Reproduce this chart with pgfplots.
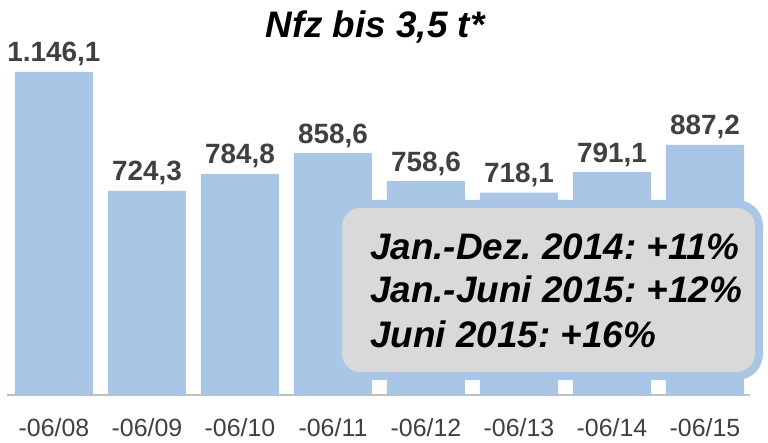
\documentclass[border=0pt]{standalone}
\usepackage{pgfplots}
\pgfplotsset{compat=1.18}
\usepackage{fontspec}
\setmainfont{Liberation Sans}
\frenchspacing
\definecolor{barblue}{RGB}{169,198,230}
\definecolor{boxgray}{RGB}{217,217,217}
\definecolor{txtgray}{RGB}{64,64,64}
\begin{document}
\begin{tikzpicture}
\path[use as bounding box] (-7bp,-48bp) rectangle (761bp,395bp);
\begin{axis}[
  at={(0,0)}, anchor=south west,
  scale only axis, width=743bp, height=323bp,
  xmin=-0.505, xmax=7.484, ymin=0, ymax=1146.1,
  clip=false,
  axis x line=bottom, axis y line=none,
  x axis line style={-, color=black!25, line width=1.3bp},
  xtick={0,...,7},
  xticklabels={-06/08,-06/09,-06/10,-06/11,-06/12,-06/13,-06/14,-06/15},
  major tick length=0pt,
  xticklabel style={anchor=base, yshift=-41bp, inner sep=0pt, text=txtgray, font=\fontsize{25}{28}\selectfont},
  ytick=\empty,
]
\addplot[ybar, bar width=0.839, fill=barblue, draw=none,
  point meta=explicit symbolic,
  nodes near coords,
  nodes near coords style={anchor=base, yshift=10bp, inner sep=0pt, text=txtgray, font=\fontsize{28}{30}\selectfont\bfseries},
] coordinates {
  (0,1146.1) [1.146,1]
  (1,724.3) [724,3]
  (2,784.8) [784,8]
  (3,858.6) [858,6]
  (4,758.6) [758,6]
  (5,718.1) [718,1]
  (6,791.1) [791,1]
  (7,887.2) [887,2]
};
\end{axis}
\node[anchor=base, inner sep=0pt, font=\fontsize{37}{40}\selectfont\bfseries\itshape] at (368bp,357bp) {Nfz bis 3,5 t*};
\draw[draw=barblue, fill=boxgray, line width=8bp, rounded corners=22bp] (331bp,19bp) rectangle (752bp,191bp);
\node[anchor=base west, inner sep=0pt, font=\fontsize{37}{40}\selectfont\bfseries\itshape] at (363bp,135bp) {Jan.-Dez. 2014: +11\%};
\node[anchor=base west, inner sep=0pt, font=\fontsize{37}{40}\selectfont\bfseries\itshape] at (363bp,92bp) {Jan.-Juni 2015: +12\%};
\node[anchor=base west, inner sep=0pt, font=\fontsize{37}{40}\selectfont\bfseries\itshape] at (363bp,47bp) {Juni 2015: +16\%};
\end{tikzpicture}
\end{document}
